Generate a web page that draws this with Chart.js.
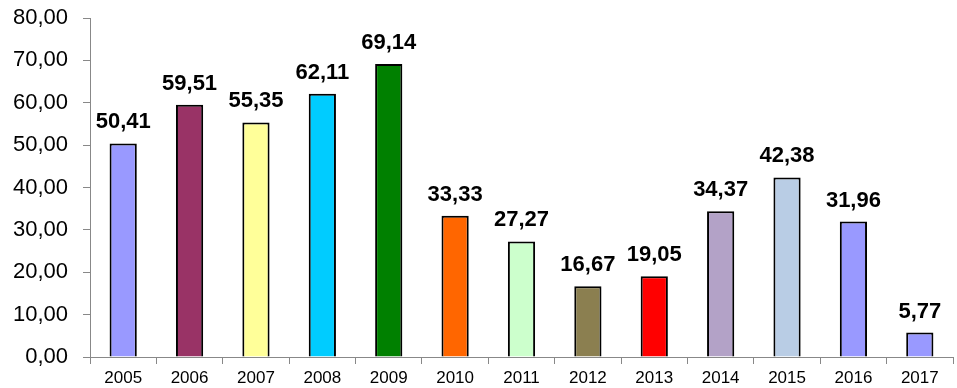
<!DOCTYPE html>
<html>
<head>
<meta charset="utf-8">
<script src="https://cdn.jsdelivr.net/npm/chart.js@4/dist/chart.umd.min.js"></script>
<style>
  html, body { margin: 0; padding: 0; background: #fff; }
  #wrap { width: 957px; height: 388px; }
</style>
</head>
<body>
<div id="wrap"><canvas id="myCanvas"></canvas></div>
<script>
var anni = ['2005', '2006', '2007', '2008', '2009', '2010', '2011', '2012', '2013', '2014', '2015', '2016', '2017'];
var valori = [50.41, 59.51, 55.35, 62.11, 69.14, 33.33, 27.27, 16.67, 19.05, 34.37, 42.38, 31.96, 5.77];
var colori = ['#9999ff', '#993366', '#ffff99', '#00ccff', '#008000', '#ff6600', '#ccffcc',
              '#8b7f50', '#ff0000', '#b3a2c7', '#b9cde5', '#9999ff', '#9999ff'];

var font = '"Liberation Sans", Arial, sans-serif';

function virgola(v) {
    return v.toFixed(2).replace('.', ',');
}

// etichette sopra le barre
var etichette = {
    id: 'etichette',
    afterDatasetsDraw: function(chart) {
        var ctx = chart.ctx;
        var meta = chart.getDatasetMeta(0);
        ctx.save();
        ctx.font = 'bold 22px ' + font;
        ctx.fillStyle = '#000';
        ctx.textAlign = 'center';
        ctx.textBaseline = 'alphabetic';
        meta.data.forEach(function(bar, i) {
            ctx.fillText(virgola(valori[i]), bar.x, bar.y - 15);
        });
        ctx.restore();
    }
};

var ctx = document.getElementById('myCanvas').getContext('2d');
var chart = new Chart(ctx, {
    type: 'bar',
    data: {
        labels: anni,
        datasets: [{
            data: valori,
            backgroundColor: colori,
            borderColor: '#000',
            borderWidth: 2,
            categoryPercentage: 1,
            barPercentage: 0.41
        }]
    },
    options: {
        responsive: true,
        maintainAspectRatio: false,
        animation: false,
        layout: { padding: { top: 18, right: 4, left: 0, bottom: 0 } },
        plugins: {
            legend: { display: false },
            tooltip: { enabled: false }
        },
        scales: {
            x: {
                afterFit: function(scale) { scale.height = 31; },
                grid: { drawOnChartArea: false, color: '#888', tickLength: 7 },
                border: { color: '#888', width: 1 },
                ticks: { color: '#000', font: { size: 17, family: font }, padding: 4 }
            },
            y: {
                min: 0,
                max: 80,
                afterFit: function(scale) {
                    scale.width = 90;
                    scale.paddingTop = 0;
                    scale.paddingBottom = 0;
                },
                grid: { drawOnChartArea: false, color: '#888', tickLength: 7 },
                border: { color: '#888', width: 1 },
                ticks: {
                    stepSize: 10,
                    color: '#000',
                    padding: 15,
                    font: { size: 22, family: font },
                    callback: function(v) { return virgola(v); }
                }
            }
        }
    },
    plugins: [etichette]
});
</script>
</body>
</html>
